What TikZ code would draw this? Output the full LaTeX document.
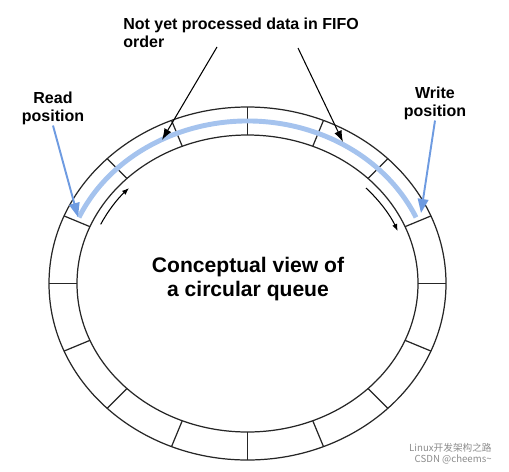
\documentclass[tikz,border=0pt]{standalone}
\usepackage{fontspec}
\setmainfont{Liberation Sans}
\newfontfamily\cjkfont{Noto Sans CJK SC}
\usetikzlibrary{arrows.meta,positioning}

\definecolor{ptrblue}{RGB}{110,155,225}
\definecolor{datablue}{RGB}{165,195,238}

\begin{document}
\begin{tikzpicture}[x=0.02cm, y=0.02cm,
                    >=Latex,
                    every node/.append style={align=center, inner sep=0pt,
                        font=\bfseries\fontsize{9.1}{10.2}\selectfont},
                    ring/.style={line width=0.7pt, draw=black!85},
                    pending/.style={line width=2.8pt, draw=datablue},
                    ptr/.style={-{Latex[length=6.5pt,width=4.5pt]}, line width=0.6pt},
                    rwptr/.style={-{Triangle[length=8pt,width=6pt]}, draw=ptrblue, fill=ptrblue, line width=1.1pt},
                    turn/.style={-{Latex[length=4pt,width=3pt]}, line width=0.6pt},
                    wm/.style={font=\fontsize{5.5}{6}\selectfont, text=black!45}]
  \useasboundingbox (0,0) rectangle (509,471);

  % the ring of slots
  \coordinate (c) at (247.5,187.5);
  \draw[ring] (c) ellipse [x radius=198.5, y radius=176.5];
  \draw[ring] (c) ellipse [x radius=170.5, y radius=148.5];
  \foreach \a in {0,22.5,...,337.5}
    \draw[ring, shift={(c)}] (\a:170.5 and 148.5) -- (\a:198.5 and 176.5);

  % filled part of the queue
  \draw[pending] ([shift={(c)}]156:184.5 and 162.5)
      arc[start angle=156, end angle=24, x radius=184.5, y radius=162.5];

  \node [anchor=north west, align=left] (fifo) at (123,453) {Not yet processed data in FIFO\\order};
  \node [anchor=north] (rd) at (53,379) {Read\\position};
  \node [anchor=north] (wr) at (435,384) {Write\\position};
  \node [anchor=north, font=\bfseries\fontsize{12}{13.6}\selectfont] (title) at (248,214) {Conceptual view of\\a circular queue};

  \coordinate (f1) at (217,424);
  \coordinate (s1) at (162,331);
  \coordinate (f2) at (298,423);
  \coordinate (s2) at (343,329);
  \coordinate (r1) at (78,254);
  \coordinate (w1) at (421,258);

  \draw[ptr] (f1) -- (s1);
  \draw[ptr] (f2) -- (s2);
  \draw[rwptr] (rd.south) -- (r1);
  \draw[rwptr] (wr.south) -- (w1);

  % direction of travel
  \draw[turn, shift={(c)}] (155:162 and 140) arc[start angle=155, end angle=137, x radius=162, y radius=140];
  \draw[turn, shift={(c)}] (43:162 and 140) arc[start angle=43, end angle=22, x radius=162, y radius=140];

  \node [wm, anchor=base east] (wm1) at (492,20) {\cjkfont Linux开发架构之路};
  \node [wm, anchor=base east] (wm2) at (492,9) {\cjkfont CSDN @cheems\textasciitilde};
\end{tikzpicture}
\end{document}
